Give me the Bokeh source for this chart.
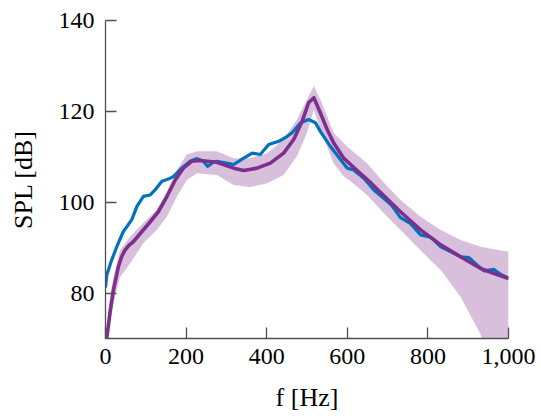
from bokeh.plotting import figure
from bokeh.models import Range1d, FixedTicker, NumeralTickFormatter, ColumnDataSource
from bokeh.embed import file_html
from bokeh.resources import INLINE

# Measured sound pressure level
freq_meas = [0, 3, 15, 28, 44, 65, 78, 94, 111, 123, 140, 156, 169, 189, 210, 227,
             243, 253, 268, 276, 300, 318, 343, 364, 384, 405, 430, 451, 463, 484,
             504, 521, 533, 558, 583, 600, 616, 641, 666, 691, 710, 732, 757, 782,
             807, 832, 857, 881, 902, 923, 939, 964, 981, 1000]
spl_meas = [81.2, 83.9, 87.2, 90.2, 93.5, 96.1, 99.1, 101.3, 101.6, 102.7, 104.6,
            105.1, 105.7, 107.5, 109.0, 109.6, 109.0, 107.9, 108.8, 109.0, 108.6,
            108.3, 109.7, 110.8, 110.5, 112.7, 113.4, 114.5, 115.3, 117.5, 118.2,
            117.5, 115.6, 112.3, 109.4, 107.5, 107.1, 105.3, 102.7, 100.8, 99.3,
            96.6, 95.3, 92.8, 92.3, 90.2, 89.1, 88.0, 87.8, 86.1, 84.9, 85.2,
            84.1, 83.3]

# Model mean response
freq_mean = [0, 3, 11, 19.5, 32, 40, 48, 58, 69, 90, 111, 131, 152, 173, 193, 214,
             235, 276, 318, 343, 376, 409, 442, 467, 488, 504, 517, 533, 550, 566,
             591, 625, 658, 682, 732, 782, 832, 881, 931, 964, 1000]
spl_mean = [65.5, 70.0, 75.5, 80.6, 85.8, 88.0, 89.4, 90.5, 91.3, 93.5, 95.7,
            97.9, 101.2, 104.9, 107.5, 109.0, 109.2, 108.8, 107.5, 107.0, 107.5,
            108.6, 110.8, 113.8, 117.8, 121.9, 123.0, 119.7, 116.0, 113.1, 109.7,
            106.9, 104.3, 102.2, 97.9, 93.9, 90.6, 88.0, 85.4, 84.3, 83.2]

# Uncertainty band of the model
freq_band = [0, 7, 19.5, 36, 61, 94, 127, 152, 177, 202, 227, 276, 318, 359, 401,
             442, 475, 500, 517, 533, 550, 566, 591, 608, 649, 699, 732, 782, 832,
             881, 931, 960, 1000]
spl_upper = [69.0, 76.5, 83.5, 89.4, 92.4, 95.5, 98.3, 102.3, 107.1, 110.5, 111.2,
             111.2, 109.7, 109.7, 110.8, 113.8, 118.2, 122.6, 125.6, 122.6, 118.9,
             115.3, 113.0, 111.6, 108.6, 103.5, 100.5, 96.8, 93.9, 91.7, 90.2,
             89.7, 89.1]
spl_lower = [60.0, 71.7, 77.7, 83.5, 86.5, 91.0, 93.9, 96.8, 101.2, 104.9, 106.4,
             106.0, 103.8, 103.3, 104.2, 106.0, 110.1, 115.3, 120.4, 116.0, 112.3,
             108.6, 105.7, 104.6, 101.6, 96.8, 93.9, 89.4, 85.0, 79.2, 70.8,
             63.0, 52.0]

x_ticks = [0, 200, 400, 600, 800, 1000]
y_ticks = [80, 100, 120, 140]

BLUE = "#0072BD"
PURPLE = "#7E2F8E"
AXIS = "#505050"
FONT = "Liberation Serif"

p = figure(width=541, height=416, x_range=Range1d(0, 1000), y_range=Range1d(70, 140),
           output_backend="svg", toolbar_location=None,
           min_border_left=105, min_border_right=33, min_border_top=20,
           min_border_bottom=78)
p.xgrid.visible = False
p.ygrid.visible = False
p.outline_line_color = None
p.background_fill_color = "white"
p.border_fill_color = "white"

band = ColumnDataSource(dict(x=freq_band, y1=spl_lower, y2=spl_upper))
p.varea(x="x", y1="y1", y2="y2", source=band, fill_color=PURPLE, fill_alpha=0.3)
p.line(freq_meas, spl_meas, line_color=BLUE, line_width=3.2, line_join="round")
p.line(freq_mean, spl_mean, line_color=PURPLE, line_width=3.6, line_join="round")

for ax, ticks in ((p.xaxis[0], x_ticks), (p.yaxis[0], y_ticks)):
    ax.ticker = FixedTicker(ticks=ticks, minor_ticks=[])
    ax.major_tick_in = 11
    ax.major_tick_out = 0
    ax.minor_tick_in = 0
    ax.minor_tick_out = 0
    ax.axis_line_color = AXIS
    ax.axis_line_width = 1.3
    ax.major_tick_line_color = AXIS
    ax.major_tick_line_width = 1.3
    ax.major_label_text_font = FONT
    ax.major_label_text_font_size = "24px"
    ax.major_label_text_color = "black"
    ax.axis_label_text_font = FONT
    ax.axis_label_text_font_size = "26px"
    ax.axis_label_text_font_style = "normal"
    ax.axis_label_text_color = "black"

p.xaxis.formatter = NumeralTickFormatter(format="0,0")
p.xaxis.axis_label = "f [Hz]"
p.yaxis.axis_label = "SPL [dB]"
p.xaxis.major_label_standoff = 10
p.yaxis.major_label_standoff = 11
p.xaxis.axis_label_standoff = 16
p.yaxis.axis_label_standoff = 18

open("out.html", "w").write(file_html(p, INLINE))
